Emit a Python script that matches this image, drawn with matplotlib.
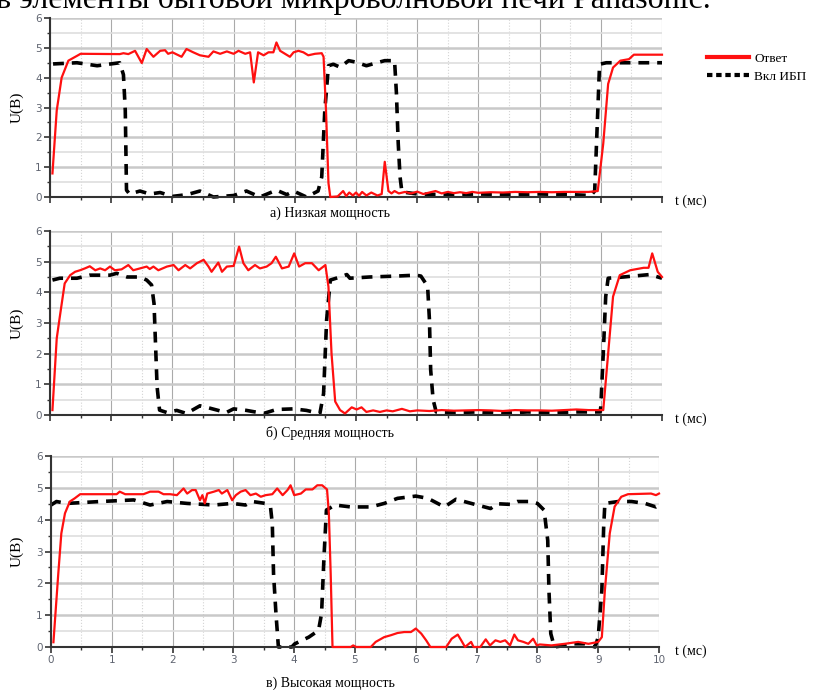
import numpy as np
import matplotlib
matplotlib.use('Agg')
import matplotlib.pyplot as plt
from matplotlib.ticker import MultipleLocator
from matplotlib.lines import Line2D

# --- data: (t, U) pairs, t in ms, U in V ---
resp_low = [(0.04, 0.79), (0.11, 2.9), (0.19, 4.0), (0.30, 4.57), (0.44, 4.73), (0.5, 4.8),
            (1.14, 4.79), (1.2, 4.82), (1.28, 4.79), (1.39, 4.9), (1.50, 4.49), (1.58, 4.96),
            (1.69, 4.7), (1.80, 4.9), (1.88, 4.92), (1.93, 4.8), (2.0, 4.85), (2.15, 4.7),
            (2.23, 4.96), (2.34, 4.85), (2.45, 4.75), (2.59, 4.7), (2.67, 4.88), (2.78, 4.8),
            (2.89, 4.88), (3.0, 4.8), (3.08, 4.9), (3.19, 4.8), (3.27, 4.85), (3.33, 3.84),
            (3.40, 4.85), (3.49, 4.75), (3.57, 4.85), (3.65, 4.85), (3.70, 5.18), (3.76, 4.9),
            (3.84, 4.8), (3.92, 4.7), (3.98, 4.85), (4.06, 4.9), (4.14, 4.85), (4.22, 4.75),
            (4.33, 4.8), (4.44, 4.82), (4.47, 4.7), (4.51, 2.9), (4.55, 0.47), (4.58, 0.0),
            (4.70, 0.02), (4.79, 0.2), (4.84, 0.03), (4.89, 0.15), (4.95, 0.05), (5.0, 0.15),
            (5.05, 0.04), (5.1, 0.17), (5.17, 0.05), (5.25, 0.15), (5.35, 0.05), (5.42, 0.1),
            (5.47, 1.18), (5.53, 0.2), (5.58, 0.12), (5.63, 0.2), (5.7, 0.12), (5.8, 0.17),
            (5.9, 0.12), (6.0, 0.18), (6.1, 0.1), (6.2, 0.15), (6.3, 0.2), (6.4, 0.12),
            (6.5, 0.17), (6.6, 0.13), (6.7, 0.16), (6.8, 0.13), (6.9, 0.17), (7.0, 0.14),
            (7.2, 0.16), (7.4, 0.15), (7.6, 0.17), (7.8, 0.16), (8.0, 0.17), (8.2, 0.16),
            (8.4, 0.17), (8.6, 0.17), (8.8, 0.17), (8.95, 0.2), (9.04, 1.79), (9.12, 3.79),
            (9.20, 4.34), (9.32, 4.57), (9.46, 4.62), (9.54, 4.77), (10.0, 4.77)]
ups_low = [(0.05, 4.46), (0.44, 4.5), (0.77, 4.4), (1.14, 4.5), (1.2, 4.1), (1.23, 2.9),
           (1.25, 0.23), (1.3, 0.1), (1.47, 0.2), (1.63, 0.1), (1.8, 0.15), (2.0, 0.02),
           (2.24, 0.08), (2.45, 0.2), (2.67, 0.0), (3.0, 0.05), (3.21, 0.2), (3.43, 0.0),
           (3.70, 0.23), (3.87, 0.08), (3.98, 0.2), (4.19, 0.0), (4.38, 0.2), (4.44, 0.67),
           (4.49, 2.9), (4.55, 4.4), (4.63, 4.45), (4.74, 4.35), (4.88, 4.57), (5.0, 4.52),
           (5.17, 4.4), (5.34, 4.5), (5.47, 4.57), (5.63, 4.57), (5.66, 3.5), (5.69, 1.8),
           (5.72, 0.67), (5.75, 0.17), (6.0, 0.1), (6.5, 0.08), (7.0, 0.1), (7.5, 0.08),
           (8.0, 0.1), (8.5, 0.08), (8.84, 0.05), (8.9, 0.2), (8.93, 1.79), (8.98, 4.45),
           (9.09, 4.5), (10.0, 4.5)]

resp_mid = [(0.04, 0.16), (0.11, 2.5), (0.16, 3.2), (0.24, 4.29), (0.33, 4.56), (0.41, 4.67),
            (0.49, 4.72), (0.57, 4.78), (0.65, 4.85), (0.74, 4.72), (0.82, 4.78), (0.90, 4.72),
            (0.98, 4.84), (1.06, 4.72), (1.17, 4.75), (1.28, 4.89), (1.36, 4.72), (1.47, 4.78),
            (1.58, 4.84), (1.63, 4.76), (1.69, 4.84), (1.77, 4.72), (1.91, 4.84), (2.02, 4.89),
            (2.10, 4.72), (2.21, 4.89), (2.29, 4.78), (2.40, 4.95), (2.51, 5.06), (2.59, 4.84),
            (2.64, 4.67), (2.75, 4.97), (2.81, 4.67), (2.89, 4.84), (3.0, 4.86), (3.09, 5.49),
            (3.16, 4.95), (3.24, 4.72), (3.35, 4.89), (3.43, 4.78), (3.54, 4.84), (3.62, 4.95),
            (3.69, 5.16), (3.79, 4.78), (3.90, 4.84), (3.99, 5.27), (4.07, 4.84), (4.17, 4.95),
            (4.28, 4.95), (4.39, 4.72), (4.50, 4.89), (4.55, 4.18), (4.60, 2.01), (4.66, 0.44),
            (4.74, 0.16), (4.82, 0.05), (4.93, 0.25), (5.01, 0.18), (5.09, 0.25), (5.17, 0.1),
            (5.28, 0.15), (5.39, 0.1), (5.5, 0.15), (5.6, 0.12), (5.75, 0.2), (5.88, 0.12),
            (6.0, 0.15), (6.2, 0.13), (6.4, 0.16), (6.6, 0.14), (6.8, 0.15), (7.0, 0.16),
            (7.2, 0.15), (7.4, 0.13), (7.6, 0.16), (7.8, 0.15), (8.0, 0.15), (8.2, 0.14),
            (8.4, 0.16), (8.6, 0.18), (8.8, 0.16), (8.99, 0.16), (9.04, 0.16), (9.12, 2.0),
            (9.20, 3.86), (9.31, 4.56), (9.48, 4.72), (9.70, 4.8), (9.78, 4.8), (9.84, 5.27),
            (9.93, 4.67), (10.0, 4.5)]
ups_mid = [(0.04, 4.4), (0.16, 4.46), (0.44, 4.46), (0.65, 4.56), (0.98, 4.56), (1.09, 4.62),
           (1.26, 4.5), (1.47, 4.5), (1.58, 4.4), (1.66, 4.24), (1.70, 3.63), (1.73, 2.0),
           (1.75, 0.92), (1.79, 0.16), (1.91, 0.08), (2.07, 0.15), (2.23, 0.05), (2.45, 0.3),
           (2.56, 0.25), (2.88, 0.08), (3.0, 0.2), (3.21, 0.15), (3.49, 0.05), (3.70, 0.18),
           (3.98, 0.2), (4.19, 0.15), (4.41, 0.05), (4.47, 0.7), (4.52, 3.1), (4.58, 4.4),
           (4.74, 4.5), (4.85, 4.58), (4.9, 4.46), (5.22, 4.5), (5.66, 4.53), (5.98, 4.56),
           (6.06, 4.53), (6.17, 4.2), (6.2, 3.1), (6.22, 1.47), (6.26, 0.5), (6.31, 0.1),
           (6.6, 0.08), (7.0, 0.1), (7.4, 0.05), (7.8, 0.1), (8.2, 0.08), (8.6, 0.1),
           (8.99, 0.1), (9.0, 0.27), (9.04, 2.0), (9.08, 3.86), (9.12, 4.46), (9.37, 4.5),
           (9.80, 4.58), (10.0, 4.46)]

resp_high = [(0.04, 0.15), (0.12, 2.31), (0.17, 3.57), (0.23, 4.2), (0.31, 4.57), (0.39, 4.67),
             (0.48, 4.8), (1.08, 4.8), (1.13, 4.88), (1.22, 4.8), (1.52, 4.8), (1.63, 4.88),
             (1.77, 4.88), (1.85, 4.8), (1.96, 4.8), (2.07, 4.77), (2.18, 4.98), (2.24, 4.82),
             (2.32, 4.93), (2.38, 4.93), (2.45, 4.61), (2.49, 4.77), (2.53, 4.51), (2.57, 4.82),
             (2.68, 4.88), (2.76, 4.93), (2.81, 4.82), (2.9, 4.93), (2.98, 4.61), (3.04, 4.77),
             (3.12, 4.88), (3.2, 4.93), (3.28, 4.77), (3.37, 4.82), (3.45, 4.72), (3.53, 4.77),
             (3.64, 4.8), (3.72, 4.98), (3.81, 4.77), (3.89, 4.93), (3.94, 5.08), (4.0, 4.77),
             (4.11, 4.82), (4.19, 4.95), (4.30, 4.95), (4.38, 5.08), (4.46, 5.08), (4.54, 4.95),
             (4.57, 4.2), (4.60, 2.31), (4.63, 0.0), (4.93, 0.0), (4.97, 0.05), (5.02, 0.0),
             (5.26, 0.0), (5.34, 0.16), (5.48, 0.31), (5.59, 0.37), (5.70, 0.44), (5.81, 0.47),
             (5.92, 0.47), (6.0, 0.58), (6.09, 0.42), (6.17, 0.21), (6.24, 0.0), (6.5, 0.0),
             (6.59, 0.26), (6.69, 0.39), (6.75, 0.2), (6.81, 0.0), (6.91, 0.16), (6.95, 0.0),
             (7.06, 0.0), (7.15, 0.24), (7.22, 0.05), (7.31, 0.21), (7.39, 0.16), (7.47, 0.21),
             (7.55, 0.05), (7.62, 0.39), (7.68, 0.21), (7.77, 0.16), (7.85, 0.1), (7.93, 0.26),
             (7.99, 0.05), (8.04, 0.08), (8.23, 0.05), (8.45, 0.1), (8.67, 0.16), (8.84, 0.1),
             (9.0, 0.16), (9.06, 0.31), (9.11, 1.78), (9.19, 3.57), (9.27, 4.41), (9.38, 4.72),
             (9.49, 4.8), (9.87, 4.82), (9.95, 4.77), (10.0, 4.82)]
ups_high = [(0.0, 4.46), (0.09, 4.57), (0.26, 4.51), (0.81, 4.57), (1.36, 4.62), (1.63, 4.46),
            (1.91, 4.57), (2.24, 4.51), (2.68, 4.46), (2.98, 4.51), (3.2, 4.46), (3.31, 4.57),
            (3.53, 4.51), (3.61, 4.4), (3.64, 3.87), (3.66, 2.31), (3.70, 1.05), (3.74, 0.0),
            (3.96, 0.0), (4.01, 0.1), (4.24, 0.31), (4.40, 0.52), (4.45, 1.05), (4.49, 2.83),
            (4.53, 4.3), (4.67, 4.46), (4.93, 4.4), (5.26, 4.4), (5.48, 4.51), (5.70, 4.67),
            (6.0, 4.74), (6.2, 4.67), (6.47, 4.4), (6.66, 4.64), (7.01, 4.46), (7.23, 4.35),
            (7.34, 4.5), (7.56, 4.48), (7.67, 4.57), (7.89, 4.57), (8.0, 4.51), (8.11, 4.3),
            (8.17, 3.35), (8.19, 1.78), (8.22, 0.42), (8.28, 0.0), (8.45, 0.05), (8.56, 0.1),
            (8.78, 0.1), (8.95, 0.0), (9.0, 0.31), (9.06, 1.78), (9.09, 3.78), (9.11, 4.51),
            (9.33, 4.57), (9.55, 4.57), (9.77, 4.51), (9.95, 4.4), (10.0, 4.46)]

captions = ['а) Низкая мощность', 'б) Средняя мощность', 'в) Высокая мощность']
series_labels = ['Ответ', 'Вкл ИБП']
top_text = 'в элементы бытовой микроволновой печи Panasonic.'

W, H = 816, 690
serif = ['Liberation Serif', 'DejaVu Serif']

fig = plt.figure(figsize=(W / 100, H / 100), dpi=100)

# axes boxes in pixels: (left, y of U=0, right, y of U=6)
boxes = [(50, 197, 662, 18), (50, 415, 662, 231), (51, 647, 659, 456)]
caption_y = [213, 433, 683]
ylabel_y = [107, 323, 551]
panels = [(resp_low, ups_low), (resp_mid, ups_mid), (resp_high, ups_high)]

for i, ((l, b, r, t), (resp, ups)) in enumerate(zip(boxes, panels)):
    ax = fig.add_axes([l / W, 1 - b / H, (r - l) / W, (b - t) / H])
    ax.set_xlim(0, 10)
    ax.set_ylim(0, 6)
    ax.xaxis.set_major_locator(MultipleLocator(1))
    ax.xaxis.set_minor_locator(MultipleLocator(0.5))
    ax.yaxis.set_major_locator(MultipleLocator(1))
    ax.yaxis.set_minor_locator(MultipleLocator(0.5))
    ax.grid(which='major', axis='y', color='#c9c9c9', lw=1.8)
    ax.grid(which='minor', axis='y', color='#dedede', lw=1.2)
    ax.grid(which='major', axis='x', color='#aaaaaa', lw=0.8)
    ax.grid(which='minor', axis='x', color='#d4d4d4', lw=0.8, ls=':')
    ax.set_axisbelow(True)
    for s in ['top', 'right']:
        ax.spines[s].set_visible(False)
    for s in ['left', 'bottom']:
        ax.spines[s].set_color('#333333')
        ax.spines[s].set_linewidth(1.5)
    ax.tick_params(which='major', direction='out', length=4, width=1.2, color='#333333',
                   labelsize=7.5, labelcolor='#5f6470', pad=2)
    ax.tick_params(which='minor', direction='out', length=2.5, width=1.0, color='#333333')
    if i < 2:
        ax.tick_params(axis='x', labelbottom=False)

    tr, ur = np.array(resp).T
    tb, ub = np.array(ups).T
    ax.plot(tr, ur, color='#ff1010', lw=1.6, clip_on=False, zorder=3)
    ax.plot(tb, ub, color='black', lw=2.6, dashes=(3, 2.2), clip_on=False, zorder=2)

    fig.text(330 / W, 1 - caption_y[i] / H, captions[i], ha='center', va='center',
             fontsize=10, family=serif)
    fig.text(675 / W, 1 - (b + 4) / H, 't (мс)', ha='left', va='center',
             fontsize=10, family=serif)
    fig.text(17 / W, 1 - ylabel_y[i] / H, 'U(B)', ha='center', va='center', rotation=90,
             fontsize=11, family=serif)

# legend at top right, outside the first panel
handles = [Line2D([], [], color='#ff1010', lw=3),
           Line2D([], [], color='black', lw=3, dashes=(1.3, 0.9))]
fig.legend(handles, series_labels, loc='upper left', bbox_to_anchor=(700 / W, 1 - 46 / H),
           frameon=False, prop={'family': serif, 'size': 9.5}, handlelength=3.2,
           handletextpad=0.4, labelspacing=0.45, borderpad=0)

# cut-off line of text from the page above the chart (cropped in the source too)
fig.text(-4 / W, 1 - 8 / H, top_text, ha='left', va='baseline', fontsize=23, family=serif)

fig.savefig('out.png', dpi=100)
